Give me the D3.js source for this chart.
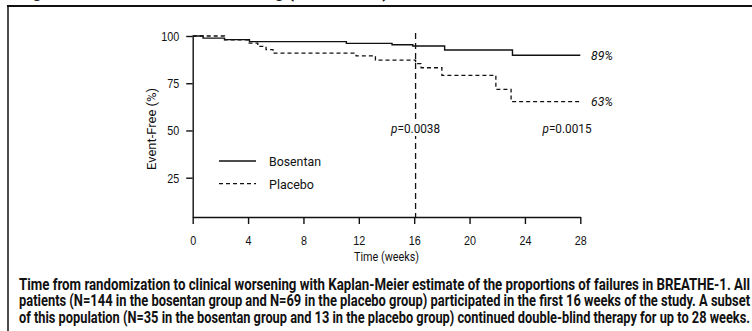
<!DOCTYPE html>
<html>
<head>
<meta charset="utf-8">
<script src="https://cdn.jsdelivr.net/npm/d3@7"></script>
<style>
  body { margin: 0; background: #fff; }
  svg { display: block; font-family: Roboto, "Liberation Sans", sans-serif; }
  .axis text { font-size: 13.5px; fill: #111; }
  .axis path, .axis line { stroke: #111; stroke-width: 1.4px; }
  .lbl { font-size: 13.5px; fill: #111; }
  .cap { font-size: 16.5px; font-weight: bold; fill: #111; }
</style>
</head>
<body>
<div id="chart"></div>
<script>
// week ticks and Kaplan-Meier steps
var weekTicks = [0, 4, 8, 12, 16, 20, 24, 28];
var pctTicks = [25, 50, 75, 100];

var bosentanWeeks = [0, 0.75, 2.3, 4.1, 11.1, 14.4, 15.9, 18.2, 23.1, 28];
var bosentanPct   = [100, 98.9, 98.1, 97.0, 96.1, 95.4, 94.7, 92.6, 89.8, 89.8];

var placeboWeeks = [0, 2.3, 4.0, 4.7, 5.3, 5.8, 11.8, 13.2, 16.1, 16.5, 18.0, 21.9, 23.0, 28];
var placeboPct   = [100, 97.9, 96.2, 94.5, 92.8, 90.9, 89.5, 87.2, 85.4, 83.2, 79.2, 71.8, 65.3, 65.3];

var cutoffWeek = 16.1;
var endLabels = ["89%", "63%"];
var endLabelPct = [89.8, 65.3];
var pLabels = ["0.0038", "0.0015"];

var captionLines = [
  "Time from randomization to clinical worsening with Kaplan-Meier estimate of the proportions of failures in BREATHE-1. All",
  "patients (N=144 in the bosentan group and N=69 in the placebo group) participated in the first 16 weeks of the study. A subset",
  "of this population (N=35 in the bosentan group and 13 in the placebo group) continued double-blind therapy for up to 28 weeks."
];

var W = 752, H = 331;

// the source face is a condensed grotesk, so squeeze text to the widths seen
function squeeze(sel, len) {
    sel.attr("textLength", len).attr("lengthAdjust", "spacingAndGlyphs");
}

var svg = d3.select("#chart").append("svg")
    .attr("width", W)
    .attr("height", H);

// frame + cropped figure title
svg.append("text")
    .attr("class", "cap")
    .attr("x", 19).attr("y", -2)
    .call(squeeze, 369)
    .text("Figure 1. Time to clinical worsening (BREATHE-1)");
svg.append("line").attr("x1", 7).attr("x2", W).attr("y1", 6).attr("y2", 6)
    .style("stroke", "#111").style("stroke-width", 2);
svg.append("line").attr("x1", 8).attr("x2", 8).attr("y1", 6).attr("y2", H)
    .style("stroke", "#111").style("stroke-width", 1.5);

var xScale = d3.scaleLinear().domain([0, 28]).range([192.7, 580.3]);
var yScale = d3.scaleLinear().domain([4.2, 100]).range([217, 36]);
var yBase = yScale(4.2);

svg.append("g")
    .attr("class", "x axis")
    .attr("transform", "translate(0," + yBase + ")")
    .call(d3.axisBottom(xScale).tickValues(weekTicks).tickSize(7).tickSizeOuter(0).tickPadding(11))
    .selectAll("text")
    .each(function (d) { d3.select(this).call(squeeze, String(d).length * 6); });

svg.append("g")
    .attr("class", "y axis")
    .attr("transform", "translate(" + xScale(0) + ",0)")
    .call(d3.axisLeft(yScale).tickValues(pctTicks).tickSize(6.5).tickSizeOuter(0).tickPadding(7))
    .selectAll("text")
    .each(function (d) { d3.select(this).call(squeeze, String(d).length * 6); });

svg.append("text")
    .attr("class", "lbl")
    .attr("x", xScale(14)).attr("y", 261)
    .attr("text-anchor", "middle")
    .call(squeeze, 65)
    .text("Time (weeks)");

svg.append("text")
    .attr("class", "lbl")
    .attr("transform", "translate(156," + 129 + ") rotate(-90)")
    .attr("text-anchor", "middle")
    .call(squeeze, 82)
    .text("Event-Free (%)");

// 16-week cutoff
svg.append("line")
    .attr("x1", xScale(cutoffWeek)).attr("x2", xScale(cutoffWeek))
    .attr("y1", 33).attr("y2", yBase)
    .style("stroke", "#111").style("stroke-width", 1.3)
    .style("stroke-dasharray", "6,4");

var line = d3.line()
    .x(function (d) { return xScale(d[0]); })
    .y(function (d) { return yScale(d[1]); })
    .curve(d3.curveStepAfter);

var bosentan = bosentanWeeks.map(function (w, i) { return [w, bosentanPct[i]]; });
var placebo = placeboWeeks.map(function (w, i) { return [w, placeboPct[i]]; });

svg.append("path")
    .datum(placebo)
    .attr("d", line)
    .style("fill", "none").style("stroke", "#111").style("stroke-width", 1.3)
    .style("stroke-dasharray", "4,3");

svg.append("path")
    .datum(bosentan)
    .attr("d", line)
    .style("fill", "none").style("stroke", "#111").style("stroke-width", 1.4);

// end-of-curve percentages
svg.selectAll(".endlbl")
    .data(endLabels)
    .enter().append("text")
    .attr("class", "lbl endlbl")
    .attr("x", 591)
    .attr("y", function (d, i) { return yScale(endLabelPct[i]) + 4.5; })
    .style("font-style", "italic")
    .call(squeeze, 22)
    .text(function (d) { return d; });

// p values; the first one sits on a white patch over the cutoff line
var pPos = [[xScale(cutoffWeek), 128], [567, 128]];
svg.append("rect")
    .attr("x", pPos[0][0] - 27).attr("y", pPos[0][1] - 8)
    .attr("width", 54).attr("height", 16)
    .style("fill", "#fff");
pLabels.forEach(function (p, i) {
    var t = svg.append("text")
        .attr("class", "lbl")
        .attr("x", pPos[i][0]).attr("y", pPos[i][1] + 5)
        .attr("text-anchor", "middle")
        .call(squeeze, 49);
    t.append("tspan").style("font-style", "italic").text("p");
    t.append("tspan").text("=" + p);
});

// legend
var legend = [["Bosentan", null, 52], ["Placebo", "4,3", 45]];
legend.forEach(function (d, i) {
    var ly = 161 + i * 22.7;
    svg.append("line")
        .attr("x1", 219).attr("x2", 256).attr("y1", ly).attr("y2", ly)
        .style("stroke", "#111").style("stroke-width", 1.3)
        .style("stroke-dasharray", d[1]);
    svg.append("text")
        .attr("class", "lbl")
        .attr("x", 269).attr("y", ly + 5)
        .call(squeeze, d[2])
        .text(d[0]);
});

// caption
svg.selectAll(".capline")
    .data(captionLines)
    .enter().append("text")
    .attr("class", "cap capline")
    .attr("x", 19)
    .attr("y", function (d, i) { return 289.5 + i * 16.5; })
    .call(squeeze, 731)
    .text(function (d) { return d; });
</script>
</body>
</html>
